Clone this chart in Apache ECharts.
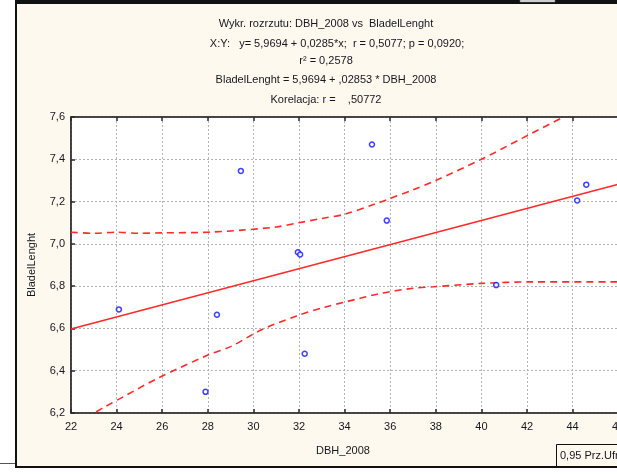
<!DOCTYPE html>
<html>
<head>
<meta charset="utf-8">
<script src="https://cdn.jsdelivr.net/npm/echarts@6/dist/echarts.min.js"></script>
<style>
  html, body { margin: 0; padding: 0; overflow: hidden; background: #ffffff; }
  #chart { width: 700px; height: 474px; }
</style>
</head>
<body>
<div id="chart"></div>
<script>
// Observations: DBH_2008 (x) and BladelLenght (y)
const dbh = [24.1, 27.9, 28.4, 29.45, 31.95, 32.05, 32.25, 35.2, 35.85, 40.65, 44.2, 44.6];
const bladeLength = [6.69, 6.30, 6.665, 7.345, 6.96, 6.95, 6.48, 7.47, 7.11, 6.805, 7.205, 7.28];

// Fitted line: BladelLenght = 5,9694 + ,02853 * DBH_2008
const intercept = 5.9694;
const slope = 0.02853;
const fitRange = [22, 48];

// 0,95 confidence band, upper and lower curves
const upperBandX = [22, 23, 24, 25, 26, 28, 29.5, 31, 32, 33, 34, 35.3, 36, 37, 38, 40, 41.8, 43.6];
const upperBandY = [7.055, 7.05, 7.055, 7.05, 7.052, 7.055, 7.065, 7.08, 7.1, 7.12, 7.14, 7.187, 7.215, 7.255, 7.30, 7.40, 7.50, 7.60];
const lowerBandX = [23.1, 23.5, 24.3, 25.8, 28, 29, 30.4, 31.9, 33.1, 34.1, 35.6, 37, 37.9, 40, 42.1, 45.8, 48];
const lowerBandY = [6.205, 6.23, 6.277, 6.364, 6.474, 6.514, 6.596, 6.659, 6.70, 6.727, 6.766, 6.79, 6.797, 6.813, 6.82, 6.82, 6.82];

// Axis ticks
const xTicks = [22, 24, 26, 28, 30, 32, 34, 36, 38, 40, 42, 44, 46, 48];
const yTicks = [6.2, 6.4, 6.6, 6.8, 7.0, 7.2, 7.4, 7.6];
const yTickLabels = ['6,2', '6,4', '6,6', '6,8', '7,0', '7,2', '7,4', '7,6'];

const headerLines = [
  'Wykr. rozrzutu: DBH_2008 vs  BladelLenght',
  'X:Y:   y= 5,9694 + 0,0285*x;  r = 0,5077; p = 0,0920;',
  'r² = 0,2578',
  'BladelLenght = 5,9694 + ,02853 * DBH_2008',
  'Korelacja: r =    ,50772'
];

const FONT = '"Liberation Sans", Arial, sans-serif';
const TEXT = '#16161e';
const CREAM = '#fef9ee';

const points = dbh.map((x, i) => [x, bladeLength[i]]);
const fitLine = fitRange.map(x => [x, intercept + slope * x]);
const upperBand = upperBandX.map((x, i) => [x, upperBandY[i]]);
const lowerBand = lowerBandX.map((x, i) => [x, lowerBandY[i]]);

function yLabel(v) {
  const idx = yTicks.findIndex(t => Math.abs(t - v) < 1e-6);
  return idx >= 0 ? yTickLabels[idx] : '';
}

const headerY = [24, 44, 61, 80, 100];
const headerX = [326, 337, 326, 326, 326];

const chart = echarts.init(document.getElementById('chart'), null, { renderer: 'canvas' });

const graphics = [
  // panel behind the plot
  { type: 'rect', z: -10, shape: { x: 16, y: 3, width: 720, height: 464 },
    style: { fill: CREAM, stroke: '#111', lineWidth: 2 } },
  { type: 'rect', z: -9, shape: { x: 15, y: 0, width: 720, height: 4 }, style: { fill: '#111' } },
  { type: 'rect', z: -8, shape: { x: 520, y: 0, width: 35, height: 2 }, style: { fill: '#f4f4f4', stroke: '#777', lineWidth: 0.6 } },
  { type: 'line', z: -9, shape: { x1: 0, y1: 463.5, x2: 15, y2: 463.5 }, style: { stroke: '#555', lineWidth: 1 } },
  // legend box in the lower right corner
  { type: 'rect', z: 5, shape: { x: 556.5, y: 444.5, width: 120, height: 22 },
    style: { fill: CREAM, stroke: '#111', lineWidth: 1 } },
  { type: 'text', z: 6, x: 560, y: 456,
    style: { text: '0,95 Prz.Ufn.', font: '11px ' + FONT, fill: TEXT, textAlign: 'left', textVerticalAlign: 'middle' } },
  // axis names
  { type: 'text', z: 6, x: 343, y: 451,
    style: { text: 'DBH_2008', font: '11px ' + FONT, fill: TEXT, textAlign: 'center', textVerticalAlign: 'middle' } },
  { type: 'text', z: 6, x: 32, y: 265, rotation: Math.PI / 2,
    style: { text: 'BladelLenght', font: '11px ' + FONT, fill: TEXT, textAlign: 'center', textVerticalAlign: 'middle' } }
];

headerLines.forEach((t, i) => {
  graphics.push({ type: 'text', z: 6, x: headerX[i], y: headerY[i],
    style: { text: t, font: '11px ' + FONT, fill: TEXT, textAlign: 'center', textVerticalAlign: 'middle' } });
});

const gridLine = { show: true, lineStyle: { color: '#b4b4b4', type: [2, 2], width: 1 } };

const option = {
  animation: false,
  backgroundColor: '#ffffff',
  graphic: graphics,
  grid: {
    left: 71, top: 117, width: 592.8, height: 296,
    show: true, backgroundColor: '#ffffff', borderColor: '#2a2a2a', borderWidth: 1.2
  },
  xAxis: [
    {
      type: 'value', min: xTicks[0], max: xTicks[xTicks.length - 1], interval: 2, position: 'bottom',
      axisLine: { show: true, onZero: false, lineStyle: { color: '#2a2a2a', width: 1.5 } },
      axisTick: { show: true, inside: true, length: 4, lineStyle: { color: '#2a2a2a', width: 1.5 } },
      axisLabel: { color: TEXT, fontFamily: FONT, fontSize: 11, margin: 8,
        formatter: v => String(v) },
      splitLine: gridLine
    },
    {
      type: 'value', min: xTicks[0], max: xTicks[xTicks.length - 1], interval: 2, position: 'top',
      axisLine: { show: true, onZero: false, lineStyle: { color: '#2a2a2a', width: 1.5 } },
      axisTick: { show: true, inside: true, length: 4, lineStyle: { color: '#2a2a2a', width: 1.5 } },
      axisLabel: { show: false }, splitLine: { show: false }
    }
  ],
  yAxis: [
    {
      type: 'value', min: yTicks[0], max: yTicks[yTicks.length - 1], interval: 0.2, position: 'left',
      axisLine: { show: true, onZero: false, lineStyle: { color: '#2a2a2a', width: 1.5 } },
      axisTick: { show: true, inside: true, length: 4, lineStyle: { color: '#2a2a2a', width: 1.5 } },
      axisLabel: { color: TEXT, fontFamily: FONT, fontSize: 11, margin: 6, formatter: yLabel },
      splitLine: gridLine
    }
  ],
  series: [
    {
      type: 'line', name: 'upper', data: upperBand, showSymbol: false, smooth: 0.3,
      lineStyle: { color: '#ff2a2a', width: 1.6, type: [7, 5] }, z: 3, silent: true
    },
    {
      type: 'line', name: 'lower', data: lowerBand, showSymbol: false, smooth: 0.3,
      lineStyle: { color: '#ff2a2a', width: 1.6, type: [7, 5] }, z: 3, silent: true
    },
    {
      type: 'line', name: 'fit', data: fitLine, showSymbol: false,
      lineStyle: { color: '#ff2a2a', width: 1.6 }, z: 4, silent: true
    },
    {
      type: 'scatter', name: 'points', data: points, symbol: 'circle', symbolSize: 5,
      itemStyle: { color: '#ffffff', borderColor: '#1010ff', borderWidth: 1.5 }, z: 5
    }
  ]
};

chart.setOption(option);
</script>
</body>
</html>
